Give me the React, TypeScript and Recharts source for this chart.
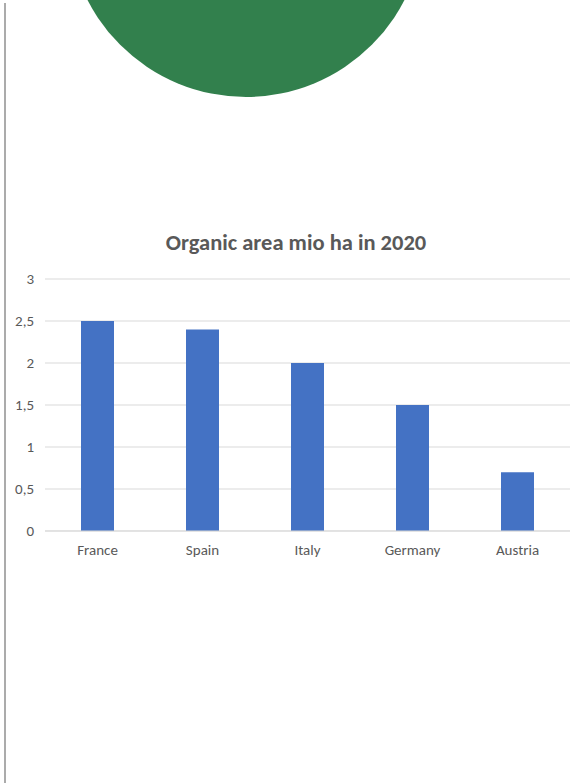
import React from 'react';
import { BarChart, Bar, XAxis, YAxis, CartesianGrid } from 'recharts';

const countries = ['France', 'Spain', 'Italy', 'Germany', 'Austria'];
const organicArea = [2.5, 2.4, 2.0, 1.5, 0.7];
const yTicks = [0, 0.5, 1, 1.5, 2, 2.5, 3];

const chartData = countries.map((name, i) => ({ name, area: organicArea[i] }));

const font = 'Carlito, Lato, "Open Sans", sans-serif';

export default function App() {
  return (
    <div style={{ position: 'absolute', left: 0, top: 0, width: 571, height: 783, background: '#fff', overflow: 'hidden' }}>
      {/* green circle cut off at the top */}
      <div
        style={{
          position: 'absolute',
          left: 246 - 178,
          top: 97 - 356,
          width: 356,
          height: 356,
          borderRadius: '50%',
          background: '#32804D',
        }}
      />
      {/* thin page rule on the left */}
      <div style={{ position: 'absolute', left: 4, top: 3, width: 2, height: 780, background: '#ababab' }} />

      <div
        style={{
          position: 'absolute',
          left: 96,
          width: 400,
          top: 228,
          textAlign: 'center',
          fontFamily: font,
          fontWeight: 700,
          fontSize: 22.5,
          lineHeight: '30px',
          color: '#595959',
          whiteSpace: 'nowrap',
        }}
      >
        Organic area mio ha in 2020
      </div>

      <div style={{ position: 'absolute', left: 0, top: 0 }}>
        <BarChart
          width={571}
          height={783}
          data={chartData}
          margin={{ top: 279, right: 1, bottom: 222, left: 0 }}
        >
          <CartesianGrid vertical={false} stroke="#d9d9d9" strokeWidth={1} />
          <XAxis
            dataKey="name"
            axisLine={{ stroke: '#d9d9d9' }}
            tickLine={false}
            tickMargin={7}
            height={30}
            tick={{ fill: '#595959', fontSize: 15, fontFamily: font }}
          />
          <YAxis
            width={45}
            domain={[0, 3]}
            ticks={yTicks}
            axisLine={false}
            tickLine={false}
            tickMargin={5}
            tickFormatter={(v: number) => String(v).replace('.', ',')}
            tick={{ fill: '#595959', fontSize: 15, fontFamily: font }}
          />
          <Bar dataKey="area" fill="#4472C4" barSize={33} isAnimationActive={false} />
        </BarChart>
      </div>
    </div>
  );
}
